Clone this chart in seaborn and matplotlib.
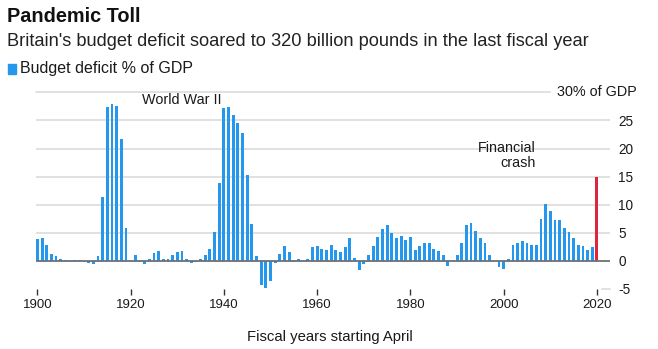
import matplotlib
matplotlib.use("Agg")
import matplotlib.pyplot as plt
from matplotlib.patches import Rectangle
import numpy as np
import pandas as pd
import seaborn as sns

# UK budget deficit as % of GDP, fiscal years 1900-2020
years = list(range(1900, 2021))
deficit_pct = [
    3.9, 4.1, 2.8, 1.3, 0.8, 0.4, 0.1, -0.2, 0.1, 0.2,      # 1900s
    -0.2, -0.4, -0.5, 0.8, 11.3, 27.3, 28.0, 27.5, 21.7, 5.8,  # 1910s
    0.0, 1.1, -0.2, -0.5, 0.4, 1.4, 1.8, 0.4, 0.3, 1.0,     # 1920s
    1.6, 1.8, 0.3, -0.4, -0.2, 0.4, 1.0, 2.2, 5.2, 13.9,    # 1930s
    27.2, 27.4, 25.9, 24.6, 22.8, 15.3, 6.5, 0.8, -4.3, -4.9,  # 1940s
    -3.6, -0.4, 1.3, 2.6, 1.5, -0.2, 0.4, 0.0, 0.3, 2.4,    # 1950s
    2.6, 2.2, 1.9, 2.8, 1.9, 1.5, 2.4, 4.0, 0.6, -1.6,      # 1960s
    -0.6, 1.0, 2.6, 4.2, 5.7, 6.4, 5.0, 4.0, 4.5, 3.8,      # 1970s
    4.3, 2.0, 2.7, 3.2, 3.2, 2.2, 1.8, 1.0, -0.9, 0.0,      # 1980s
    1.0, 3.2, 6.4, 6.7, 5.4, 4.1, 3.1, 1.0, 0.0, -1.1,      # 1990s
    -1.5, 0.4, 2.9, 3.2, 3.6, 3.1, 2.8, 2.9, 7.5, 10.2,     # 2000s
    8.8, 7.3, 7.3, 5.9, 5.2, 4.1, 2.8, 2.6, 2.0, 2.5,       # 2010s
    15.0,                                                   # 2020
]
x_ticks = [1900, 1920, 1940, 1960, 1980, 2000, 2020]
y_ticks = [-5, 0, 5, 10, 15, 20, 25]

BLUE = "#2598ee"
RED = "#e0233f"
TEXT = "#1a1a1a"

df = pd.DataFrame({"year": years, "deficit": deficit_pct})
hist = df[df["year"] < 2020]
latest = df[df["year"] == 2020]

sns.set_theme(style="white")
plt.rcParams["font.family"] = ["Liberation Sans", "DejaVu Sans"]

W, H = 658, 349
fig = plt.figure(figsize=(W / 100, H / 100), dpi=100)
ax = fig.add_axes([36 / W, (H - 289) / H, (610 - 36) / W, (289 - 92.3) / H])

sns.barplot(data=hist, x="year", y="deficit", native_scale=True, width=0.62,
            color=BLUE, saturation=1, ax=ax, linewidth=0, errorbar=None)
sns.barplot(data=latest, x="year", y="deficit", native_scale=True, width=0.62,
            color=RED, saturation=1, ax=ax, linewidth=0, errorbar=None)
for p in ax.patches:
    cx = p.get_x() + p.get_width() / 2
    p.set_width(0.62)
    p.set_x(cx - 0.31)

ax.set_xlim(1899.7, 2022.8)
ax.set_ylim(-5, 30)

# gridlines
for v in [5, 10, 15, 20, 25]:
    ax.axhline(v, color="#dedede", lw=1.3, zorder=0)
ax.axhline(30, xmin=0, xmax=(550 - 36) / (610 - 36), color="#dedede", lw=1.3,
           zorder=0, clip_on=False)
ax.axhline(-5, xmin=(602 - 36) / (610 - 36), xmax=1, color="#dedede", lw=1.3,
           zorder=0, clip_on=False)
ax.axhline(0, color="#6b6f78", lw=1.3, zorder=3)

for s in ax.spines.values():
    s.set_visible(False)

ax.set_xticks(x_ticks)
ax.set_xticklabels([str(t) for t in x_ticks])
ax.tick_params(axis="x", length=4, width=1, color="#333333", pad=3,
               labelsize=9.5, labelcolor=TEXT, direction="out", bottom=True)
ax.yaxis.tick_right()
ax.set_yticks(y_ticks)
ax.set_yticklabels([str(t) for t in y_ticks])
ax.tick_params(axis="y", length=0, pad=6, labelsize=9.8, labelcolor=TEXT)
ax.set_xlabel("Fiscal years starting April", fontsize=10.7, color=TEXT)
ax.xaxis.set_label_coords((330 - 36) / (610 - 36), -(337 - 289) / (289 - 92.3))
ax.xaxis.label.set_verticalalignment("center")
ax.set_ylabel("")

ax.text(2028.6, 30, "30% of GDP", fontsize=10.4, color=TEXT,
        ha="right", va="center", clip_on=False)
ax.text(1939.4, 28.7, "World War II", fontsize=10.4, color=TEXT,
        ha="right", va="center")
ax.text(2006.9, 18.8, "Financial\ncrash", fontsize=10.4, color=TEXT,
        ha="right", va="center", linespacing=1.1)

fig.text(7 / W, 1 - 17 / H, "Pandemic Toll", fontsize=14.3, fontweight="bold",
         color="#111111", ha="left", va="center")
fig.text(7 / W, 1 - 42 / H,
         "Britain's budget deficit soared to 320 billion pounds in the last fiscal year",
         fontsize=13.15, color="#222222", ha="left", va="center")
fig.patches.append(Rectangle((8 / W, 1 - 74 / H), 8 / W, 10 / H,
                             transform=fig.transFigure, color=BLUE))
fig.text(20 / W, 1 - 69 / H, "Budget deficit % of GDP", fontsize=11.5,
         color=TEXT, ha="left", va="center")

fig.savefig("out.png", dpi=100)
